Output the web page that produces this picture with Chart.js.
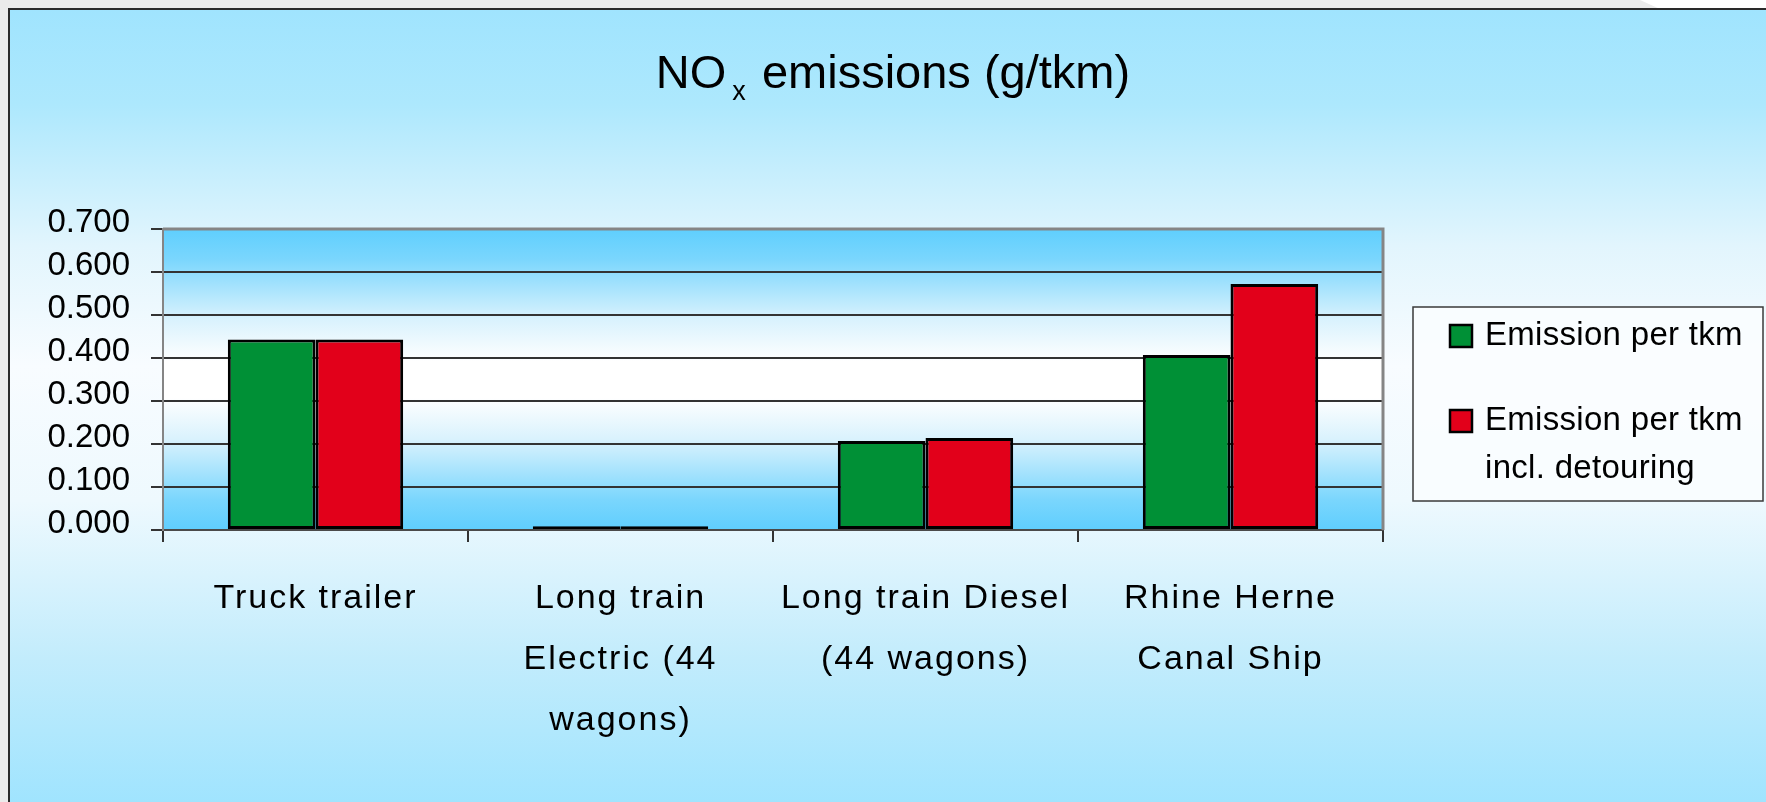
<!DOCTYPE html>
<html>
<head>
<meta charset="utf-8">
<script src="https://cdn.jsdelivr.net/npm/chart.js@4/dist/chart.umd.min.js"></script>
<style>
  html, body { margin: 0; padding: 0; background: #ebebeb; overflow: hidden; }
  #wrap { width: 1766px; height: 802px; position: relative; }
  canvas { display: block; }
</style>
</head>
<body>
<div id="wrap"><canvas id="chart" width="1766" height="802"></canvas></div>
<script>
// ---- data ----
const categories = [
  ['Truck trailer'],
  ['Long train', 'Electric (44', 'wagons)'],
  ['Long train Diesel', '(44 wagons)'],
  ['Rhine Herne', 'Canal Ship']
];
const seriesNames = ['Emission per tkm', 'Emission per tkm incl. detouring'];
const emissionPerTkm = [0.443, 0.009, 0.207, 0.407];
const emissionInclDetouring = [0.443, 0.009, 0.214, 0.572];
const yAxisMin = 0;
const yAxisMax = 0.7;
const yAxisStep = 0.1;
const titleParts = { main: 'NO', sub: 'x', rest: ' emissions (g/tkm)' };

// ---- styling ----
const FONT = '"Liberation Sans", Arial, sans-serif';
const seriesColors = ['#009036', '#e2001a'];

// backdrop: page strip, framed panel gradient, plot-area gradient
const backdrop = {
  id: 'backdrop',
  beforeDraw(chart) {
    const { ctx, width, height, chartArea: a } = chart;
    ctx.save();
    ctx.fillStyle = '#ebebeb';
    ctx.fillRect(0, 0, width, height);
    ctx.fillStyle = '#ffffff';
    ctx.beginPath();
    ctx.moveTo(1640, 0); ctx.lineTo(width, 0); ctx.lineTo(width, 9); ctx.lineTo(1660, 9);
    ctx.closePath(); ctx.fill();

    const g = ctx.createLinearGradient(0, 9, 0, height);
    g.addColorStop(0, '#a0e4fe');
    g.addColorStop(0.12, '#ade8fd');
    g.addColorStop(0.3, '#e2f5fd');
    g.addColorStop(0.45, '#f8fcff');
    g.addColorStop(0.62, '#eef9fe');
    g.addColorStop(0.82, '#c2ecfc');
    g.addColorStop(1, '#a0e4fe');
    ctx.fillStyle = g;
    ctx.fillRect(9, 9, width - 9, height - 9);

    ctx.strokeStyle = '#2a2a2a';
    ctx.lineWidth = 2;
    ctx.beginPath();
    ctx.moveTo(9, height); ctx.lineTo(9, 9); ctx.lineTo(width, 9);
    ctx.stroke();

    const p = ctx.createLinearGradient(0, a.top, 0, a.bottom);
    p.addColorStop(0, '#5fcffe');
    p.addColorStop(0.1, '#7ad6fd');
    p.addColorStop(0.3, '#d9f2fd');
    p.addColorStop(0.44, '#ffffff');
    p.addColorStop(0.56, '#ffffff');
    p.addColorStop(0.7, '#d9f2fd');
    p.addColorStop(0.9, '#7ad6fd');
    p.addColorStop(1, '#5fcefe');
    ctx.fillStyle = p;
    ctx.fillRect(a.left, a.top, a.right - a.left, a.bottom - a.top);
    ctx.restore();
  },
  beforeDatasetsDraw(chart) {
    const { ctx, chartArea: a } = chart;
    ctx.save();
    ctx.strokeStyle = '#858585';
    ctx.lineWidth = 3;
    ctx.beginPath();
    ctx.moveTo(a.left, a.top); ctx.lineTo(a.right, a.top); ctx.lineTo(a.right, a.bottom);
    ctx.stroke();
    ctx.restore();
  }
};

// title with subscript
const subTitle = {
  id: 'subTitle',
  afterDraw(chart) {
    const { ctx } = chart;
    const cx = 893, base = 88;
    const gapBefore = 6, gapAfter = 3;
    ctx.save();
    ctx.fillStyle = '#000';
    ctx.textBaseline = 'alphabetic';
    ctx.textAlign = 'left';
    const big = '47px ' + FONT, small = '27px ' + FONT;
    ctx.font = big;
    const w1 = ctx.measureText(titleParts.main).width;
    const w3 = ctx.measureText(titleParts.rest).width;
    ctx.font = small;
    const w2 = ctx.measureText(titleParts.sub).width;
    let x = cx - (w1 + gapBefore + w2 + gapAfter + w3) / 2;
    ctx.font = big;
    ctx.fillText(titleParts.main, x, base);
    x += w1 + gapBefore;
    ctx.font = small;
    ctx.fillText(titleParts.sub, x, base + 12);
    x += w2 + gapAfter;
    ctx.font = big;
    ctx.fillText(titleParts.rest, x, base);
    ctx.restore();
  }
};

// boxed legend with wrapped entries
const boxLegend = {
  id: 'boxLegend',
  afterDraw(chart) {
    const { ctx } = chart;
    const box = { x: 1413, y: 307, w: 350, h: 194 };
    ctx.save();
    ctx.fillStyle = 'rgba(250,253,255,0.92)';
    ctx.fillRect(box.x, box.y, box.w, box.h);
    ctx.strokeStyle = '#3a3a3a';
    ctx.lineWidth = 1.5;
    ctx.strokeRect(box.x, box.y, box.w, box.h);

    ctx.font = '33px ' + FONT;
    ctx.letterSpacing = '0.3px';
    ctx.textBaseline = 'middle';
    ctx.textAlign = 'left';
    const textX = 1485, maxW = 265, lineH = 48;
    const rowsY = [336, 421];
    chart.data.datasets.forEach((ds, i) => {
      const words = ds.label.split(' ');
      const lines = [];
      let cur = '';
      words.forEach(wd => {
        const t = cur ? cur + ' ' + wd : wd;
        if (ctx.measureText(t).width > maxW && cur) { lines.push(cur); cur = wd; }
        else cur = t;
      });
      if (cur) lines.push(cur);
      const cy = rowsY[i];
      ctx.fillStyle = ds.backgroundColor;
      ctx.fillRect(1450, cy - 11, 22, 22);
      ctx.strokeStyle = '#000';
      ctx.lineWidth = 2.5;
      ctx.strokeRect(1450, cy - 11, 22, 22);
      ctx.fillStyle = '#000';
      lines.forEach((ln, k) => ctx.fillText(ln, textX, cy + k * lineH));
    });
    ctx.restore();
  }
};

new Chart(document.getElementById('chart'), {
  type: 'bar',
  data: {
    labels: categories,
    datasets: [
      { label: seriesNames[0], data: emissionPerTkm, backgroundColor: seriesColors[0] },
      { label: seriesNames[1], data: emissionInclDetouring, backgroundColor: seriesColors[1] }
    ]
  },
  options: {
    responsive: false,
    devicePixelRatio: 1,
    animation: false,
    layout: { padding: { top: 229, right: 383, bottom: 0, left: 0 } },
    datasets: {
      bar: {
        categoryPercentage: 0.575,
        barPercentage: 1.0,
        borderColor: '#000',
        borderWidth: 3,
        borderSkipped: false
      }
    },
    plugins: {
      legend: { display: false },
      title: { display: false },
      tooltip: { enabled: false }
    },
    scales: {
      x: {
        afterFit(scale) {
          scale.height = 272;
          // category labels are set with a little tracking
          if (!scale._tracked) {
            const base = scale.drawLabels;
            scale.drawLabels = function (area) {
              const c = this.ctx;
              const prev = c.letterSpacing;
              c.letterSpacing = '2px';
              base.call(this, area);
              c.letterSpacing = prev || '0px';
            };
            scale._tracked = true;
          }
        },
        grid: {
          offset: true,
          drawOnChartArea: false,
          drawTicks: true,
          tickLength: 12,
          color: '#333',
          lineWidth: 2
        },
        border: { display: true, color: '#4a4a4a', width: 2 },
        ticks: {
          color: '#000',
          padding: 26,
          maxRotation: 0,
          autoSkip: false,
          font: { family: FONT, size: 34, lineHeight: '61px' }
        }
      },
      y: {
        min: yAxisMin,
        max: yAxisMax,
        afterFit(scale) { scale.width = 163; },
        grid: {
          color: '#333',
          lineWidth: 2,
          drawTicks: true,
          tickLength: 12
        },
        border: { display: true, color: '#858585', width: 2 },
        ticks: {
          stepSize: yAxisStep,
          color: '#000',
          padding: 21,
          labelOffset: -6,
          font: { family: FONT, size: 33 },
          callback: v => Number(v).toFixed(3)
        }
      }
    }
  },
  plugins: [backdrop, subTitle, boxLegend]
});
</script>
</body>
</html>
